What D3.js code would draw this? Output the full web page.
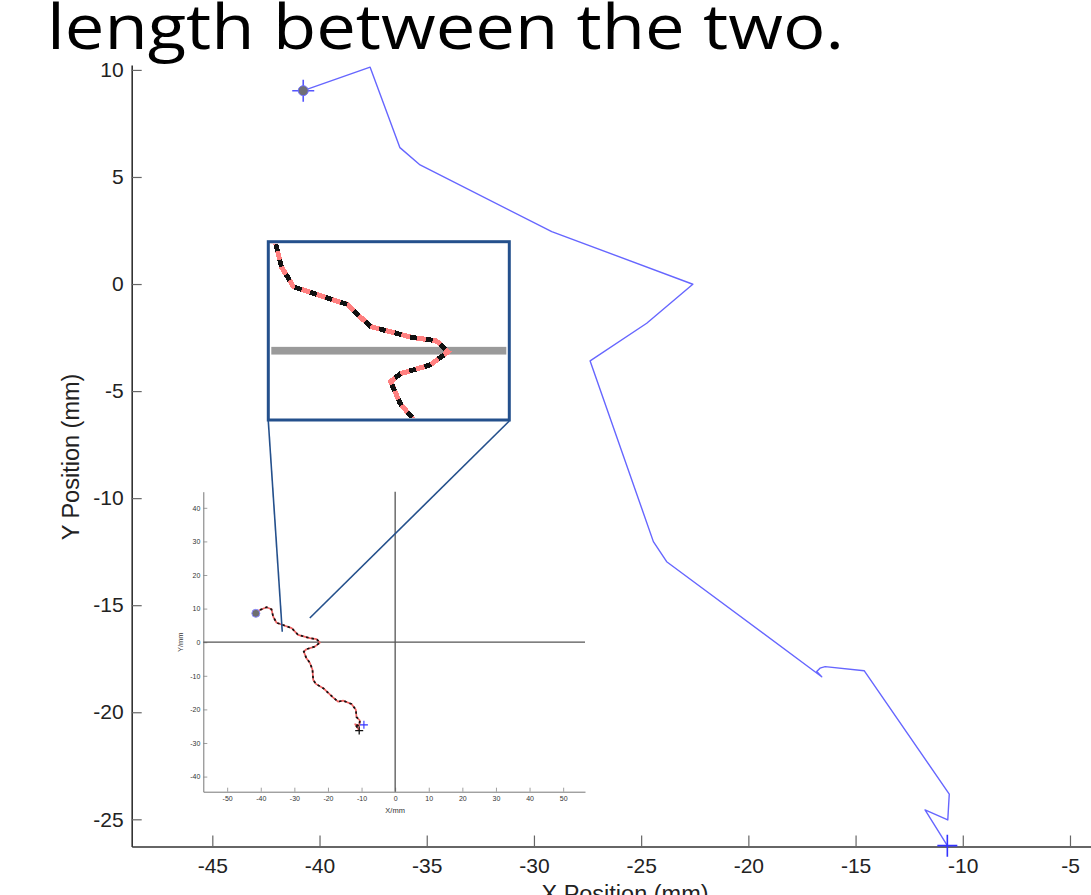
<!DOCTYPE html>
<html>
<head>
<meta charset="utf-8">
<script src="https://cdn.jsdelivr.net/npm/d3@7"></script>
<style>
  html, body { margin: 0; padding: 0; background: #fff; }
  svg { display: block; }
</style>
</head>
<body>
<svg id="chart" width="1091" height="895"></svg>
<script>
// ---------- data ----------
const titleText = "length between the two.";
const xLabel = "X Position (mm)";
const yLabel = "Y Position (mm)";

// main trajectory (mm)
const mainX = [-40.76, -37.64, -36.25, -35.31, -29.17, -22.59, -24.74, -27.38, -24.43, -23.81, -16.58, -16.81, -16.66, -16.42, -14.60, -10.63, -10.70, -11.76, -10.72];
const mainY = [9.03, 10.13, 6.37, 5.56, 2.45, -0.01, -1.83, -3.59, -12.03, -12.97, -18.34, -18.10, -17.94, -17.87, -18.06, -23.82, -25.03, -24.56, -26.23];

const mainXTicks = [-45, -40, -35, -30, -25, -20, -15, -10, -5];
const mainYTicks = [10, 5, 0, -5, -10, -15, -20, -25];

// inset trajectory (mm)
const insetX = [-41.46, -40.27, -38.27, -36.8, -36.3, -35.3, -32.8, -30.8, -28.9, -25.4, -23.4, -22.4, -23.9, -26.4, -27.2, -26.4, -25.4, -24.6, -24.4, -23.6, -21.4, -18.5, -17.0, -15.5, -13.0, -11.7, -11.5, -10.5, -10.7, -11.9, -10.7];
const insetY = [8.6, 9.6, 10.4, 9.8, 7.6, 5.8, 4.9, 4.2, 2.2, 1.2, 0.9, -0.1, -1.3, -2.1, -2.8, -4.8, -6.1, -8.2, -11.2, -12.4, -13.7, -16.4, -17.7, -17.4, -18.4, -20.1, -22.3, -23.3, -24.9, -24.4, -26.3];
const insetEnd = [-9.3, -24.6];
const insetXTicks = [-50, -40, -30, -20, -10, 0, 10, 20, 30, 40, 50];
const insetYTicks = [40, 30, 20, 10, 0, -10, -20, -30, -40];
const insetXLabel = "X/mm";
const insetYLabel = "Y/mm";
// points in the inset that the zoom box connectors point to
const zoomTargetX = [-33.6, -25.4];
const zoomTargetY = [3.1, 7.2];

// ---------- drawing ----------
const svg = d3.select("#chart");
svg.append("rect").attr("width", 1091).attr("height", 895).attr("fill", "#fff");

// title (slide text, cropped at top)
svg.append("text")
  .attr("x", 47).attr("y", 49)
  .attr("font-family", "'Open Sans', 'Noto Sans', sans-serif")
  .attr("font-size", 62)
  .attr("textLength", 797).attr("lengthAdjust", "spacingAndGlyphs")
  .attr("fill", "#000")
  .text(titleText);

// main scales
const x = d3.scaleLinear().domain([-48.76, -4.02]).range([131.7, 1091]);
const y = d3.scaleLinear().domain([10.23, -26.27]).range([65, 846.5]);

const axFont = "'Liberation Sans', Arial, Helvetica, sans-serif";

const gx = svg.append("g").attr("transform", `translate(0,${y.range()[1]})`)
  .call(d3.axisBottom(x).tickValues(mainXTicks).tickSizeInner(-11).tickSizeOuter(0).tickPadding(12).tickFormat(d3.format("d")));
const gy = svg.append("g").attr("transform", `translate(${x.range()[0]},0)`)
  .call(d3.axisLeft(y).tickValues(mainYTicks).tickSizeInner(-10).tickSizeOuter(0).tickPadding(8).tickFormat(d3.format("d")));
[gx, gy].forEach(g => {
  g.select(".domain").attr("stroke", "#333").attr("stroke-width", 1.6);
  g.selectAll(".tick line").attr("stroke", "#666").attr("stroke-width", 1.2);
  g.selectAll(".tick text").attr("font-family", axFont).attr("font-size", 21).attr("fill", "#222");
});
// replace minus sign with hyphen like the reference
svg.selectAll(".tick text").text(function(){ return this.textContent.replace("\u2212", "-"); });

svg.append("text")
  .attr("transform", `translate(79,457) rotate(-90)`)
  .attr("text-anchor", "middle")
  .attr("font-family", axFont).attr("font-size", 23.5).attr("fill", "#222")
  .text(yLabel);
svg.append("text")
  .attr("x", 625).attr("y", 902)
  .attr("text-anchor", "middle")
  .attr("font-family", axFont).attr("font-size", 23.5).attr("fill", "#222")
  .text(xLabel);

// main line
const mainPts = mainX.map((v, i) => [v, mainY[i]]);
svg.append("path")
  .datum(mainPts)
  .attr("fill", "none").attr("stroke", "#6666ff").attr("stroke-width", 1.4)
  .attr("stroke-linejoin", "round")
  .attr("d", d3.line().x(d => x(d[0])).y(d => y(d[1])));

// start marker
const s0 = mainPts[0];
const sm = svg.append("g").attr("transform", `translate(${x(s0[0])},${y(s0[1])})`);
sm.append("path").attr("d", "M-11,0L11,0M0,-11L0,11").attr("stroke", "#5555ff").attr("stroke-width", 1.6);
sm.append("path").attr("d", "M-6,0L0,-2.5L6,0L0,2.5Z M-2.5,0L0,-6L2.5,0L0,6Z").attr("fill", "#5555ff");
sm.append("circle").attr("r", 5).attr("fill", "#6e6e78").attr("stroke", "#7070ff").attr("stroke-width", 1);
// end marker
const e0 = mainPts[mainPts.length - 1];
svg.append("path")
  .attr("transform", `translate(${x(e0[0])},${y(e0[1])})`)
  .attr("d", "M-10,0L10,0M0,-11L0,11").attr("stroke", "#3333ff").attr("stroke-width", 1.6);

// ---------- inset ----------
const ix = d3.scaleLinear().domain([-57.1, 56.5]).range([203.3, 585]);
const iy = d3.scaleLinear().domain([44.8, -44.5]).range([491.7, 791.7]);
const inset = svg.append("g");
const igx = inset.append("g").attr("transform", `translate(0,${iy.range()[1]})`)
  .call(d3.axisBottom(ix).tickValues(insetXTicks).tickSizeInner(-4).tickSizeOuter(0).tickPadding(4).tickFormat(d3.format("d")));
const igy = inset.append("g").attr("transform", `translate(${ix.range()[0]},0)`)
  .call(d3.axisLeft(iy).tickValues(insetYTicks).tickSizeInner(-4).tickSizeOuter(0).tickPadding(3).tickFormat(d3.format("d")));
[igx, igy].forEach(g => {
  g.select(".domain").attr("stroke", "#777").attr("stroke-width", 1);
  g.selectAll(".tick line").attr("stroke", "#888").attr("stroke-width", 0.8);
  g.selectAll(".tick text").attr("font-family", axFont).attr("font-size", 7).attr("fill", "#333");
});
inset.selectAll(".tick text").text(function(){ return this.textContent.replace("\u2212", "-"); });
inset.append("text").attr("x", ix(0)).attr("y", 813).attr("text-anchor", "middle")
  .attr("font-family", axFont).attr("font-size", 7.5).attr("fill", "#333").text(insetXLabel);
inset.append("text").attr("transform", `translate(183,${iy(0)}) rotate(-90)`).attr("text-anchor", "middle")
  .attr("font-family", axFont).attr("font-size", 7.5).attr("fill", "#333").text(insetYLabel);
// crosshair
inset.append("line").attr("x1", ix(0)).attr("x2", ix(0)).attr("y1", iy.range()[0]).attr("y2", iy.range()[1])
  .attr("stroke", "#555").attr("stroke-width", 1.3);
inset.append("line").attr("x1", ix.range()[0]).attr("x2", ix.range()[1]).attr("y1", iy(0)).attr("y2", iy(0))
  .attr("stroke", "#555").attr("stroke-width", 1.3);

const insetPts = insetX.map((v, i) => [v, insetY[i]]);
const iline = d3.line().x(d => ix(d[0])).y(d => iy(d[1]));
inset.append("path").datum(insetPts).attr("fill", "none").attr("stroke", "#f06262").attr("stroke-width", 1.7)
  .attr("stroke-linejoin", "round").attr("d", iline);
inset.append("path").datum(insetPts).attr("fill", "none").attr("stroke", "#111").attr("stroke-width", 1.7)
  .attr("stroke-dasharray", "2.5,3").attr("d", iline);
inset.append("circle").attr("cx", ix(insetX[0])).attr("cy", iy(insetY[0])).attr("r", 4)
  .attr("fill", "#6e6e70").attr("stroke", "#8c8cff").attr("stroke-width", 1);
const il = insetPts[insetPts.length - 1];
inset.append("path").attr("transform", `translate(${ix(il[0])},${iy(il[1])})`)
  .attr("d", "M-4,0L4,0M0,-4L0,4").attr("stroke", "#111").attr("stroke-width", 1.3);
inset.append("path").attr("transform", `translate(${ix(insetEnd[0])},${iy(insetEnd[1])})`)
  .attr("d", "M-4,0L4,0M0,-4L0,4").attr("stroke", "#3333ff").attr("stroke-width", 1.1);

// ---------- zoom box ----------
const bx = d3.scaleLinear().domain([-37.4, -17.3]).range([268.3, 509.3]);
const by = d3.scaleLinear().domain([9.9, -6.3]).range([241.7, 420]);
const boxBlue = "#24508c";
// connectors
svg.append("line").attr("x1", bx.range()[0]).attr("y1", by.range()[1] + 1)
  .attr("x2", ix(zoomTargetX[0])).attr("y2", iy(zoomTargetY[0]))
  .attr("stroke", boxBlue).attr("stroke-width", 1.6);
svg.append("line").attr("x1", bx.range()[1]).attr("y1", by.range()[1] + 1)
  .attr("x2", ix(zoomTargetX[1])).attr("y2", iy(zoomTargetY[1]))
  .attr("stroke", boxBlue).attr("stroke-width", 1.6);

svg.append("defs").append("clipPath").attr("id", "boxclip")
  .append("rect").attr("x", bx.range()[0] + 2).attr("y", by.range()[0] + 2)
  .attr("width", bx.range()[1] - bx.range()[0] - 4).attr("height", by.range()[1] - by.range()[0] - 4);
svg.append("rect").attr("x", bx.range()[0]).attr("y", by.range()[0])
  .attr("width", bx.range()[1] - bx.range()[0]).attr("height", by.range()[1] - by.range()[0])
  .attr("fill", "#fff");
const bg = svg.append("g").attr("clip-path", "url(#boxclip)");
bg.append("rect").attr("x", bx.range()[0] + 3).attr("y", by(0) - 3.8)
  .attr("width", bx.range()[1] - bx.range()[0] - 6).attr("height", 7.7).attr("fill", "#9a9a9a");
const bline = d3.line().x(d => bx(d[0])).y(d => by(d[1]));
bg.append("path").datum(insetPts).attr("fill", "none").attr("stroke", "#ff8080").attr("stroke-width", 5)
  .attr("stroke-linejoin", "miter").attr("shape-rendering", "crispEdges").attr("d", bline);
bg.append("path").datum(insetPts).attr("fill", "none").attr("stroke", "#111").attr("stroke-width", 5)
  .attr("stroke-dasharray", "7,9").attr("shape-rendering", "crispEdges").attr("d", bline);
svg.append("rect").attr("x", bx.range()[0]).attr("y", by.range()[0])
  .attr("width", bx.range()[1] - bx.range()[0]).attr("height", by.range()[1] - by.range()[0])
  .attr("fill", "none").attr("stroke", boxBlue).attr("stroke-width", 3);
</script>
</body>
</html>
